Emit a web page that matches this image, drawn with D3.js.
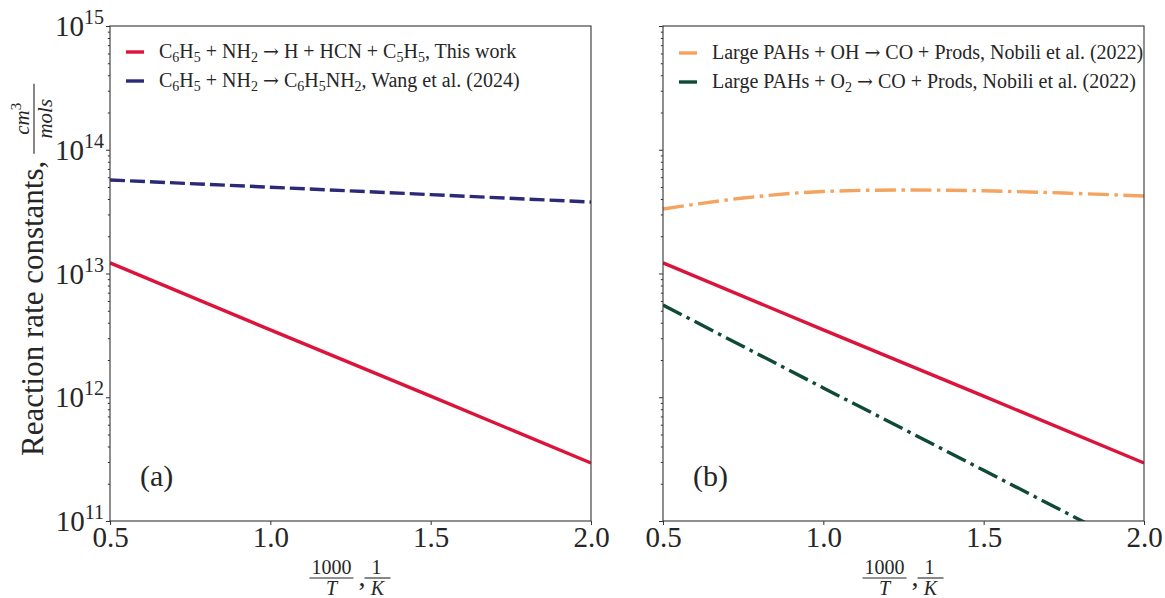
<!DOCTYPE html>
<html><head><meta charset="utf-8">
<script src="https://cdn.jsdelivr.net/npm/d3@7"></script>
<style>
body{margin:0;background:#fff}
svg{display:block}
text{font-family:"Liberation Serif","DejaVu Serif",serif;fill:#262626}
</style>
</head><body>
<svg id="chart" width="1165" height="598"></svg>
<script>
// ---- data ----
const xTicks = [0.5, 1.0, 1.5, 2.0];
const yMajorExps = [11, 12, 13, 14, 15];
const panelLabels = ["(a)", "(b)"];

const xThisWork = [0.5, 1.0, 1.5, 2.0];
const kThisWork = [1.22e13, 3.50e12, 1.02e12, 2.94e11];

const xWang = [0.5, 1.0, 1.5, 2.0];
const kWang = [5.70e13, 4.98e13, 4.34e13, 3.78e13];

const xOH = [0.5, 0.75, 1.0, 1.25, 1.5, 1.75, 2.0];
const kOH = [3.32e13, 4.07e13, 4.60e13, 4.73e13, 4.66e13, 4.47e13, 4.23e13];

const xO2 = [0.5, 1.0, 1.5, 2.0];
const kO2 = [5.56e12, 1.19e12, 2.57e11, 5.52e10];

const nameThisWork = "C_6H_5 + NH_2 \u2192 H + HCN + C_5H_5, This work";
const nameWang = "C_6H_5 + NH_2 \u2192 C_6H_5NH_2, Wang et al. (2024)";
const nameOH = "Large PAHs + OH \u2192 CO + Prods, Nobili et al. (2022)";
const nameO2 = "Large PAHs + O_2 \u2192 CO + Prods, Nobili et al. (2022)";

// ---- styles ----
const C_RED = "#dc143c", C_BLUE = "#2a2a78", C_ORANGE = "#f4a460", C_GREEN = "#0e4a35";
const DASH = "15,5", DASHDOT = "21,5.5,3.5,5.5";

const seriesA = [
  {x: xThisWork, k: kThisWork, name: nameThisWork, color: C_RED, dash: null, curve: d3.curveLinear, legend: true},
  {x: xWang, k: kWang, name: nameWang, color: C_BLUE, dash: DASH, curve: d3.curveLinear, legend: true}
];
const seriesB = [
  {x: xOH, k: kOH, name: nameOH, color: C_ORANGE, dash: DASHDOT, curve: d3.curveMonotoneX, legend: true},
  {x: xO2, k: kO2, name: nameO2, color: C_GREEN, dash: DASHDOT, curve: d3.curveLinear, legend: true},
  {x: xThisWork, k: kThisWork, name: nameThisWork, color: C_RED, dash: null, curve: d3.curveLinear, legend: false}
];

const svg = d3.select("#chart");
const W = 481, H = 495, TOP = 26;
const panels = [
  {left: 110, series: seriesA, label: panelLabels[0], showY: true, id: "a"},
  {left: 663, series: seriesB, label: panelLabels[1], showY: false, id: "b"}
];

function richText(t, str, size) {
  // "_X" => subscript X ; arrow drawn in its own tspan
  const off = size * 0.22;
  let buf = "", i = 0, pendingUp = false;
  const flush = () => {
    if (buf) {
      const ts = t.append("tspan").text(buf);
      if (pendingUp) { ts.attr("dy", -off); pendingUp = false; }
      buf = "";
    }
  };
  while (i < str.length) {
    const ch = str[i];
    if (ch === "_" && i + 1 < str.length) {
      flush();
      const ts = t.append("tspan").attr("font-size", size * 0.7).text(str[i + 1]);
      ts.attr("dy", pendingUp ? 0 : off);
      pendingUp = true;
      i += 2;
    } else if (ch === "\u2192") {
      flush();
      const ts = t.append("tspan").attr("font-family", "DejaVu Serif").attr("font-size", size * 0.95).text("\u2192");
      if (pendingUp) { ts.attr("dy", -off); pendingUp = false; }
      i++;
    } else { buf += ch; i++; }
  }
  flush();
}

panels.forEach(p => {
  const x = d3.scaleLinear().domain([0.5, 2.0]).range([0, W]);
  const y = d3.scaleLog().domain([1e11, 1e15]).range([H, 0]);
  const g = svg.append("g").attr("transform", `translate(${p.left},${TOP})`);

  g.append("clipPath").attr("id", "clip" + p.id)
    .append("rect").attr("x", 0).attr("y", 0).attr("width", W).attr("height", H);

  // lines
  const plot = g.append("g").attr("clip-path", `url(#clip${p.id})`);
  p.series.slice().reverse().forEach(s => {
    const pts = s.x.map((v, i) => [v, s.k[i]]);
    const line = d3.line().x(d => x(d[0])).y(d => y(d[1])).curve(s.curve);
    plot.append("path").attr("d", line(pts)).attr("fill", "none")
      .attr("stroke", s.color).attr("stroke-width", 3.4)
      .attr("stroke-dasharray", s.dash).attr("stroke-linecap", "butt");
  });

  // x axis
  const xa = g.append("g").attr("transform", `translate(0,${H})`)
    .call(d3.axisBottom(x).tickValues(xTicks).tickFormat(d3.format(".1f")).tickSize(4).tickSizeOuter(0));
  xa.select(".domain").remove();
  xa.selectAll(".tick line").attr("stroke", "#333").attr("stroke-width", 1);
  xa.selectAll(".tick text").attr("font-size", 29).attr("dy", 0).attr("y", 26)
    .attr("font-family", "Liberation Serif").attr("fill", "#262626");

  // y axis majors & minors
  const majors = yMajorExps.map(e => Math.pow(10, e));
  const minors = [];
  for (let e = 11; e < 15; e++) for (let m = 2; m <= 9; m++) minors.push(m * Math.pow(10, e));
  const ya = g.append("g").call(d3.axisLeft(y).tickValues(majors).tickFormat("").tickSize(4).tickSizeOuter(0));
  ya.select(".domain").remove();
  ya.selectAll(".tick line").attr("stroke", "#333");
  const ym = g.append("g").call(d3.axisLeft(y).tickValues(minors).tickFormat("").tickSize(2.2).tickSizeOuter(0));
  ym.select(".domain").remove();
  ym.selectAll(".tick line").attr("stroke", "#333");

  if (p.showY) {
    yMajorExps.forEach(e => {
      const t = g.append("text").attr("x", -6).attr("y", y(Math.pow(10, e)) + 10)
        .attr("text-anchor", "end").attr("font-size", 29);
      t.append("tspan").text("10");
      t.append("tspan").attr("font-size", 20).attr("dy", -12).text(String(e));
    });
  }

  // frame
  g.append("rect").attr("x", 0).attr("y", 0).attr("width", W).attr("height", H)
    .attr("fill", "none").attr("stroke", "#333").attr("stroke-width", 1.1);

  // legend
  const leg = p.series.filter(s => s.legend);
  leg.forEach((s, i) => {
    const ly = (p.id === "a" ? 26 : 27) + i * 29;
    g.append("line").attr("x1", 16).attr("x2", 34).attr("y1", ly).attr("y2", ly)
      .attr("stroke", s.color).attr("stroke-width", 3.4);
    const t = g.append("text").attr("x", 49).attr("y", ly + 6).attr("font-size", 20);
    richText(t, s.name, 20);
  });

  // panel label
  g.append("text").attr("x", 30).attr("y", 460).attr("font-size", 30).text(p.label);

  // x axis label: 1000/T , 1/K
  const cx = W / 2;
  const xl = g.append("g").attr("transform", `translate(${cx - 41},${H})`);
  const fs = 20;
  xl.append("text").attr("x", 22).attr("y", 53).attr("text-anchor", "middle").attr("font-size", fs).text("1000");
  xl.append("line").attr("x1", 0).attr("x2", 44).attr("y1", 57).attr("y2", 57).attr("stroke", "#262626").attr("stroke-width", 1.1);
  xl.append("text").attr("x", 22).attr("y", 74).attr("text-anchor", "middle").attr("font-size", fs).attr("font-style", "italic").text("T");
  xl.append("text").attr("x", 49).attr("y", 65).attr("font-size", 28).text(",");
  xl.append("text").attr("x", 67).attr("y", 53).attr("text-anchor", "middle").attr("font-size", fs).text("1");
  xl.append("line").attr("x1", 55).attr("x2", 81).attr("y1", 57).attr("y2", 57).attr("stroke", "#262626").attr("stroke-width", 1.1);
  xl.append("text").attr("x", 68).attr("y", 74).attr("text-anchor", "middle").attr("font-size", fs).attr("font-style", "italic").text("K");
});

// y axis label (rotated)
const yl = svg.append("g").attr("transform", "translate(43,456) rotate(-90)");
const main = yl.append("text").attr("x", 0).attr("y", 0).attr("font-size", 31).text("Reaction rate constants,");
const mw = main.node().getComputedTextLength();
const fx = mw + 7;
const fsz = 21;
const num = yl.append("text").attr("x", fx + 35).attr("y", -14).attr("text-anchor", "middle")
  .attr("font-size", fsz).attr("font-style", "italic");
num.append("tspan").text("cm");
num.append("tspan").attr("font-size", 15).attr("dy", -8).attr("font-style", "normal").text("3");
yl.append("line").attr("x1", fx).attr("x2", fx + 70).attr("y1", -9).attr("y2", -9)
  .attr("stroke", "#262626").attr("stroke-width", 1.1);
yl.append("text").attr("x", fx + 35).attr("y", 9).attr("text-anchor", "middle")
  .attr("font-size", fsz).attr("font-style", "italic").text("mols");
</script>
</body></html>
